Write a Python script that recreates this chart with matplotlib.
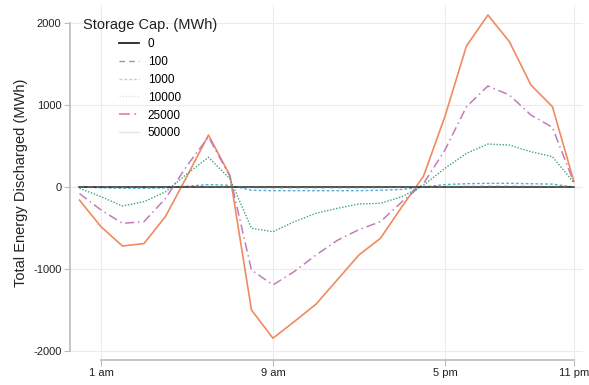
import matplotlib
matplotlib.use("Agg")
import matplotlib.pyplot as plt
from matplotlib.lines import Line2D

plt.rcParams['font.family'] = ['Liberation Sans', 'DejaVu Sans']

hours = list(range(24))
tick_hours = [1, 9, 17, 23]
tick_labels = ["1 am", "9 am", "5 pm", "11 pm"]
y_ticks = [-2000, -1000, 0, 1000, 2000]

cap_0 = [0] * 24
cap_100 = [0, -2, -4, -4, -2, 2, 5, 3, -6, -7, -7, -7, -7, -7, -6, -4, 0, 5, 6, 7, 7, 6, 5, 0]
cap_1000 = [0, -10, -15, -15, -10, 10, 30, 20, -40, -45, -45, -45, -45, -45, -40, -30,
            0, 30, 40, 45, 45, 40, 35, 0]
cap_10000 = [-16, -118, -232, -179, -60, 160, 362, 100, -504, -545, -423, -321, -260, -207,
             -199, -118, 20, 228, 410, 524, 512, 430, 370, 52]
cap_25000 = [-80, -280, -443, -423, -140, 260, 610, 130, -1012, -1195, -1030, -830, -650,
             -520, -423, -180, 40, 451, 979, 1232, 1122, 878, 728, 52]
cap_50000 = [-160, -484, -720, -690, -360, 130, 634, 140, -1500, -1845, -1640, -1430, -1130,
             -829, -626, -240, 130, 860, 1720, 2098, 1772, 1244, 980, 65]

fig = plt.figure(figsize=(5.89, 3.85), dpi=100)
ax = fig.add_axes([0.1185, 0.065, 0.8705, 0.922])

# faint grid at the tick positions
for yv in y_ticks:
    ax.axhline(yv, color='#ececec', lw=0.8, zorder=0)
for xv in tick_hours:
    ax.axvline(xv, color='#ececec', lw=0.8, zorder=0)

series = [
    (cap_50000, dict(color='#f08a5f', lw=1.2, ls='-'), 2),
    (cap_25000, dict(color='#c27cb8', lw=1.1, ls=(0, (6, 2.5, 1, 2.5))), 3),
    (cap_10000, dict(color='#3aa57a', lw=1.0, ls=(0, (1, 1.2))), 4),
    (cap_1000, dict(color='#4fb3d6', lw=1.0, ls=(0, (2, 1.5))), 5),
    (cap_0, dict(color='#222222', lw=1.1, ls='-'), 6),
    (cap_100, dict(color='#666666', lw=1.0, ls=(0, (3, 3))), 7),
]
for vals, st, z in series:
    ax.plot(hours, vals, zorder=z, **st)

ax.set_xlim(-0.45, 23.4)
ax.set_ylim(-2110, 2220)
ax.set_xticks(tick_hours)
ax.set_xticklabels(tick_labels)
ax.set_yticks(y_ticks)
ax.set_yticklabels([str(v) for v in y_ticks])
ax.tick_params(axis='both', labelsize=8, color='#bbbbbb', length=4, width=0.8,
               labelcolor='#222222')
ax.tick_params(axis='x', pad=2)
ax.tick_params(axis='y', pad=2)

for s in ['top', 'right']:
    ax.spines[s].set_visible(False)
ax.spines['left'].set_bounds(-2000, 2000)
ax.spines['bottom'].set_bounds(1, 23)
for s in ['left', 'bottom']:
    ax.spines[s].set_color('#bbbbbb')
    ax.spines[s].set_linewidth(1.2)

ax.set_ylabel("Total Energy Discharged (MWh)", fontsize=10.5, color='#222222', labelpad=4)

# legend handles drawn in soft tints
legend_styles = [
    ('0', dict(color='#222222', lw=1.3, ls='-')),
    ('100', dict(color='#999999', lw=1.0, ls=(0, (4, 3)))),
    ('1000', dict(color='#9fd8ea', lw=1.0, ls=(0, (2, 1.5)))),
    ('10000', dict(color='#cdebd5', lw=1.0, ls=(0, (1, 1.2)))),
    ('25000', dict(color='#e08aa0', lw=1.3, ls=(0, (6, 2.5, 1, 2.5)))),
    ('50000', dict(color='#e4e4e4', lw=1.0, ls='-')),
]
handles = [Line2D([], [], **st) for _, st in legend_styles]
labels = [lab for lab, _ in legend_styles]
leg = ax.legend(handles, labels, title="Storage Cap. (MWh)", loc='upper left',
                bbox_to_anchor=(83 / 589, 1 - 18 / 385), bbox_transform=fig.transFigure,
                frameon=False, fontsize=8.5, title_fontsize=10.5,
                handlelength=1.7, handletextpad=0.7, labelspacing=0.5,
                borderaxespad=0, borderpad=0)
leg.get_title().set_color('#222222')

fig.savefig("out.png", dpi=100)
